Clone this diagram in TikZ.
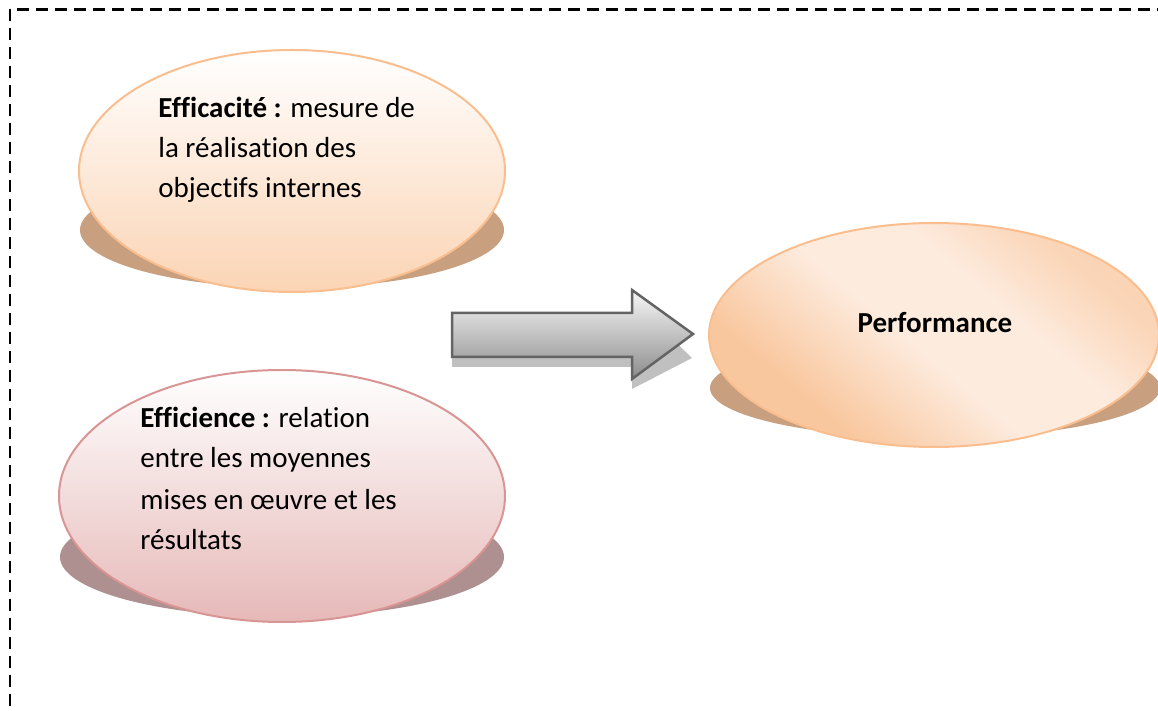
\documentclass[tikz,border=0pt]{standalone}
\usepackage{fontspec}
\setmainfont[Ligatures={NoCommon}]{Carlito}
\usetikzlibrary{shapes.geometric}
\definecolor{peachB}{RGB}{250,190,142}
\definecolor{peachF}{RGB}{251,212,180}
\definecolor{peachS}{RGB}{200,160,127}
\definecolor{peachD}{RGB}{249,199,158}
\definecolor{peachL}{RGB}{253,235,222}
\definecolor{pinkB}{RGB}{217,149,148}
\definecolor{pinkF}{RGB}{230,185,184}
\definecolor{pinkS}{RGB}{174,144,144}
\definecolor{arrB}{RGB}{100,100,100}
\definecolor{arrS}{RGB}{192,192,192}
\pgfdeclareverticalshading{perfshade}{100bp}{color(0bp)=(peachD); color(30bp)=(peachD); color(47bp)=(peachL); color(60bp)=(peachL); color(72bp)=(peachD!60!peachL); color(100bp)=(peachD)}
\tikzset{
  bubble/.style={ellipse, inner sep=0pt, line width=1pt},
  shadowell/.style={ellipse, inner sep=0pt, draw=none},
  txt/.style={align=left, inner sep=0pt, font=\fontsize{14.5pt}{20pt}\selectfont},
}
\begin{document}
\begin{tikzpicture}[x=0.5pt,y=-0.5pt]
\clip (0,0) rectangle (1158,711);
\fill[white] (0,0) rectangle (1158,711);
\draw[dash pattern=on 6pt off 3.5pt, line width=1.1pt] (10,9.5) rectangle (1180,730);
% shadows
\node[shadowell, fill=peachS, minimum width=212pt, minimum height=58pt] (s1) at (292,230) {};
\node[shadowell, fill=pinkS, minimum width=222pt, minimum height=60pt] (s2) at (282,557) {};
\node[shadowell, fill=peachS, minimum width=225pt, minimum height=50pt] (s3) at (935,388) {};
% bubbles
\node[bubble, draw=peachB, top color=white, bottom color=peachF, minimum width=213pt, minimum height=121pt] (e1) at (292,171) {};
\node[bubble, draw=pinkB, top color=white, bottom color=pinkF, minimum width=223pt, minimum height=126pt] (e2) at (282,496) {};
\node[bubble, draw=peachB, shading=perfshade, shading angle=-40, minimum width=225pt, minimum height=112pt] (e3) at (934,335) {};
% texts (base anchor = baseline of the last line)
\node[txt, anchor=base west] (t1) at (158,198) {\textbf{Efficacité :} mesure de\\la réalisation des\\objectifs internes};
\node[txt, anchor=base west, font=\fontsize{14.5pt}{20.5pt}\selectfont] (t2) at (140,550) {\textbf{Efficience :} relation\\entre les moyennes\\mises en œuvre et les\\résultats};
\node[txt, anchor=base] (t3) at (935,333) {\textbf{Performance}};
% arrow
\fill[arrS] (452,323) -- (632,323) -- (632,300) -- (692,358) -- (632,389) -- (632,367) -- (452,367) -- cycle;
\shade[top color=white!97!black, bottom color=white!55!black, draw=arrB, line width=1.25pt, line join=miter]
  (452,313) -- (632,313) -- (632,290) -- (693,334) -- (632,379) -- (632,357) -- (452,357) -- cycle;
\end{tikzpicture}
\end{document}
